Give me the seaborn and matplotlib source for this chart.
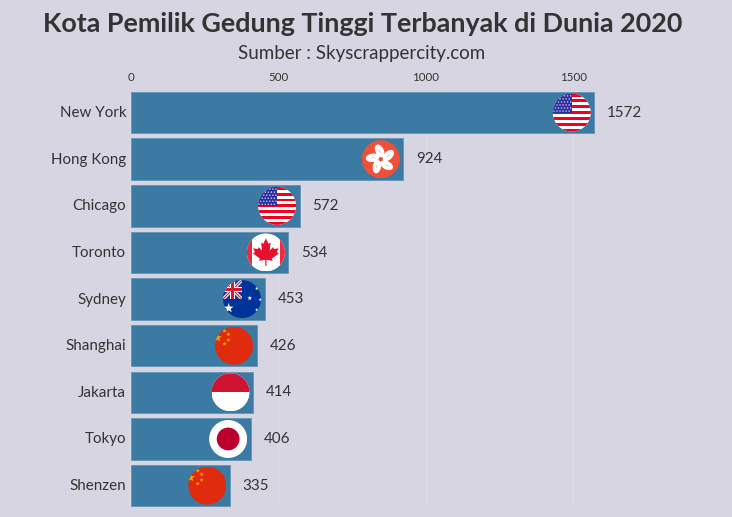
import numpy as np
import pandas as pd
import matplotlib
matplotlib.use("Agg")
import matplotlib.pyplot as plt
import seaborn as sns
from matplotlib.lines import Line2D
from matplotlib.patches import Circle, Ellipse, Polygon, Rectangle
from matplotlib.path import Path
from matplotlib.transforms import Affine2D, ScaledTranslation

cities = ["New York", "Hong Kong", "Chicago", "Toronto", "Sydney",
          "Shanghai", "Jakarta", "Tokyo", "Shenzen"]
buildings = [1572, 924, 572, 534, 453, 426, 414, 406, 335]
flags = ["us", "hk", "us", "ca", "au", "cn", "id", "jp", "cn"]
x_ticks = [0, 500, 1000, 1500]
title = "Kota Pemilik Gedung Tinggi Terbanyak di Dunia 2020"
subtitle = "Sumber : Skyscrappercity.com"

BACKGROUND = "#d7d5e2"
BAR = "#3b7aa2"
BAR_EDGE = "#6495b5"
TEXT = "#333333"
GRID = "#dcdbe3"
FONT = ["Lato", "DejaVu Sans"]
W, H = 732, 517
FLAG_RADIUS = 19      # pixels
FLAG_INSET = 22.5     # pixels from bar end to flag centre
LABEL_GAP = 13        # pixels from bar end to value label

sns.set_theme(style="white")
plt.rcParams["font.family"] = FONT

fig = plt.figure(figsize=(W / 100, H / 100), dpi=100, facecolor=BACKGROUND)
ax = fig.add_axes([131 / W, 1 - 506.6 / H, 501 / W, 415 / H], facecolor=BACKGROUND)

df = pd.DataFrame({"city": cities, "buildings": buildings})
sns.barplot(data=df, y="city", x="buildings", orient="h", color=BAR, saturation=1,
            width=0.89, edgecolor=BAR_EDGE, linewidth=0.6, ax=ax, zorder=2)


def add_shape(artist, clip, t):
    artist.set_transform(t)
    artist.set_zorder(4)
    if isinstance(artist, Line2D):
        ax.add_line(artist)
    else:
        ax.add_patch(artist)
    artist.set_clip_path(clip, t)


def star(cx, cy, size, color, clip, t):
    verts = Path.unit_regular_star(5, 0.4).vertices * size + np.array([cx, cy])
    add_shape(Polygon(verts, closed=True, fc=color, ec="none"), clip, t)


def rect(x, y, w, h, color, clip, t):
    add_shape(Rectangle((x, y), w, h, fc=color, ec="none"), clip, t)


def flag_us(clip, t):
    rect(-1, -1, 2, 2, "white", clip, t)
    edges = np.linspace(-1, 1, 14)
    for i in range(0, 13, 2):
        rect(-1, edges[i], 2, edges[i + 1] - edges[i], "#f4001e", clip, t)
    rect(-1, 0, 1, 1, "#2b2f9e", clip, t)
    for row, y in enumerate(np.arange(0.08, 1, 0.16)):
        for x in np.arange(-0.94 + 0.08 * (row % 2), 0, 0.16):
            add_shape(Circle((x, y), 0.04, fc="#c9c9ee", ec="none"), clip, t)


def flag_hk(clip, t):
    rect(-1, -1, 2, 2, "#f04f3a", clip, t)
    for angle in [98, 26, -46, -118, 170]:
        a = np.radians(angle)
        cx, cy = 0.44 * np.cos(a), 0.44 * np.sin(a)
        add_shape(Ellipse((cx, cy), 0.72, 0.44, angle=angle + 18, fc="white", ec="none"), clip, t)
        add_shape(Ellipse((cx, cy), 0.24, 0.04, angle=angle + 18, fc="#f7a79b", ec="none"), clip, t)


def flag_ca(clip, t):
    rect(-1, -1, 2, 2, "white", clip, t)
    rect(-1, -1, 0.28, 2, "#f0293e", clip, t)
    rect(0.72, -1, 0.28, 2, "#f0293e", clip, t)
    half = np.array([(0, 1.0), (0.18, 0.62), (0.32, 0.70), (0.26, 0.14), (0.48, 0.38),
                     (0.54, 0.24), (0.86, 0.30), (0.74, 0.02), (0.88, -0.06), (0.40, -0.44),
                     (0.46, -0.60), (0.04, -0.52), (0.04, -0.95)])
    leaf = np.vstack([half, half[::-1] * [-1, 1]]) * [0.78, 0.74]
    add_shape(Polygon(leaf, closed=True, fc="#e8112d", ec="none"), clip, t)


def flag_au(clip, t):
    navy = "#00339a"
    rect(-1, -1, 2, 2, navy, clip, t)
    canton = Path.wedge(90, 180)
    rect(-1, 0, 1, 1, "#1f3d96", canton, t)
    for lw, color in [(2.2, "white"), (0.8, "#d8182d")]:
        for seg in [((-1, 0), (0, 1)), ((-1, 1), (0, 0))]:
            xs, ys = zip(*seg)
            add_shape(Line2D(xs, ys, color=color, lw=lw, solid_capstyle="butt"), canton, t)
    rect(-1, 0.36, 1, 0.28, "white", canton, t)
    rect(-0.64, 0, 0.28, 1, "white", canton, t)
    rect(-1, 0.43, 1, 0.14, "#d8182d", canton, t)
    rect(-0.57, 0, 0.14, 1, "#d8182d", canton, t)
    star(-0.70, -0.48, 0.27, "white", clip, t)
    for x, y, s in [(0.41, 0.05, 0.13), (0.78, 0.56, 0.10), (0.97, -0.03, 0.10), (0.78, -0.57, 0.10)]:
        star(x, y, s, "white", clip, t)


def flag_cn(clip, t):
    rect(-1, -1, 2, 2, "#e12b0e", clip, t)
    star(-0.87, 0.42, 0.24, "#f5a800", clip, t)
    for x, y in [(-0.50, 0.79), (-0.30, 0.60), (-0.30, 0.30), (-0.50, 0.10)]:
        star(x, y, 0.12, "#f5a800", clip, t)


def flag_id(clip, t):
    rect(-1, -1, 2, 2, "white", clip, t)
    rect(-1, 0, 2, 1, "#ce1430", clip, t)


def flag_jp(clip, t):
    rect(-1, -1, 2, 2, "white", clip, t)
    add_shape(Circle((0, 0), 0.6, fc="#bc002d", ec="none"), clip, t)


painters = {"us": flag_us, "hk": flag_hk, "ca": flag_ca, "au": flag_au,
            "cn": flag_cn, "id": flag_id, "jp": flag_jp}

ax.set_xlim(0, 1700)
ax.set_ylim(8.45, -0.45)

unit_circle = Path.unit_circle()
for i, (value, code) in enumerate(zip(buildings, flags)):
    # flags are drawn in a unit-circle frame anchored to the end of each bar
    t = (Affine2D().scale(FLAG_RADIUS).translate(-FLAG_INSET, 0)
         + ScaledTranslation(value, i, ax.transData))
    painters[code](unit_circle, t)
    ax.annotate(str(value), xy=(value, i), xytext=(LABEL_GAP * 0.72, 1),
                textcoords="offset points", ha="left", va="center_baseline",
                fontsize=10.9, color=TEXT, annotation_clip=False)

ax.set_xlabel("")
ax.set_ylabel("")
ax.xaxis.tick_top()
ax.set_xticks(x_ticks)
ax.tick_params(axis="x", length=0, pad=6.5, labelsize=8.3, labelcolor=TEXT)
ax.tick_params(axis="y", length=0, pad=3.5, labelsize=10.9, labelcolor=TEXT)
for label in ax.get_yticklabels():
    label.set_verticalalignment("center_baseline")
    # nudge the city names up by a pixel
    label.set_transform(label.get_transform() + Affine2D().translate(0, 1))
ax.grid(axis="x", color=GRID, lw=1)
ax.grid(axis="y", visible=False)
ax.set_axisbelow(True)
sns.despine(ax=ax, left=True, bottom=True, top=True, right=True)

fig.text(363 / W, 1 - 24.5 / H, title, ha="center", va="center", fontsize=19.4,
         fontweight="bold", color=TEXT)
fig.text(362 / W, 1 - 53 / H, subtitle, ha="center", va="center", fontsize=13.5, color=TEXT)

fig.savefig("out.png", dpi=100, facecolor=BACKGROUND)
